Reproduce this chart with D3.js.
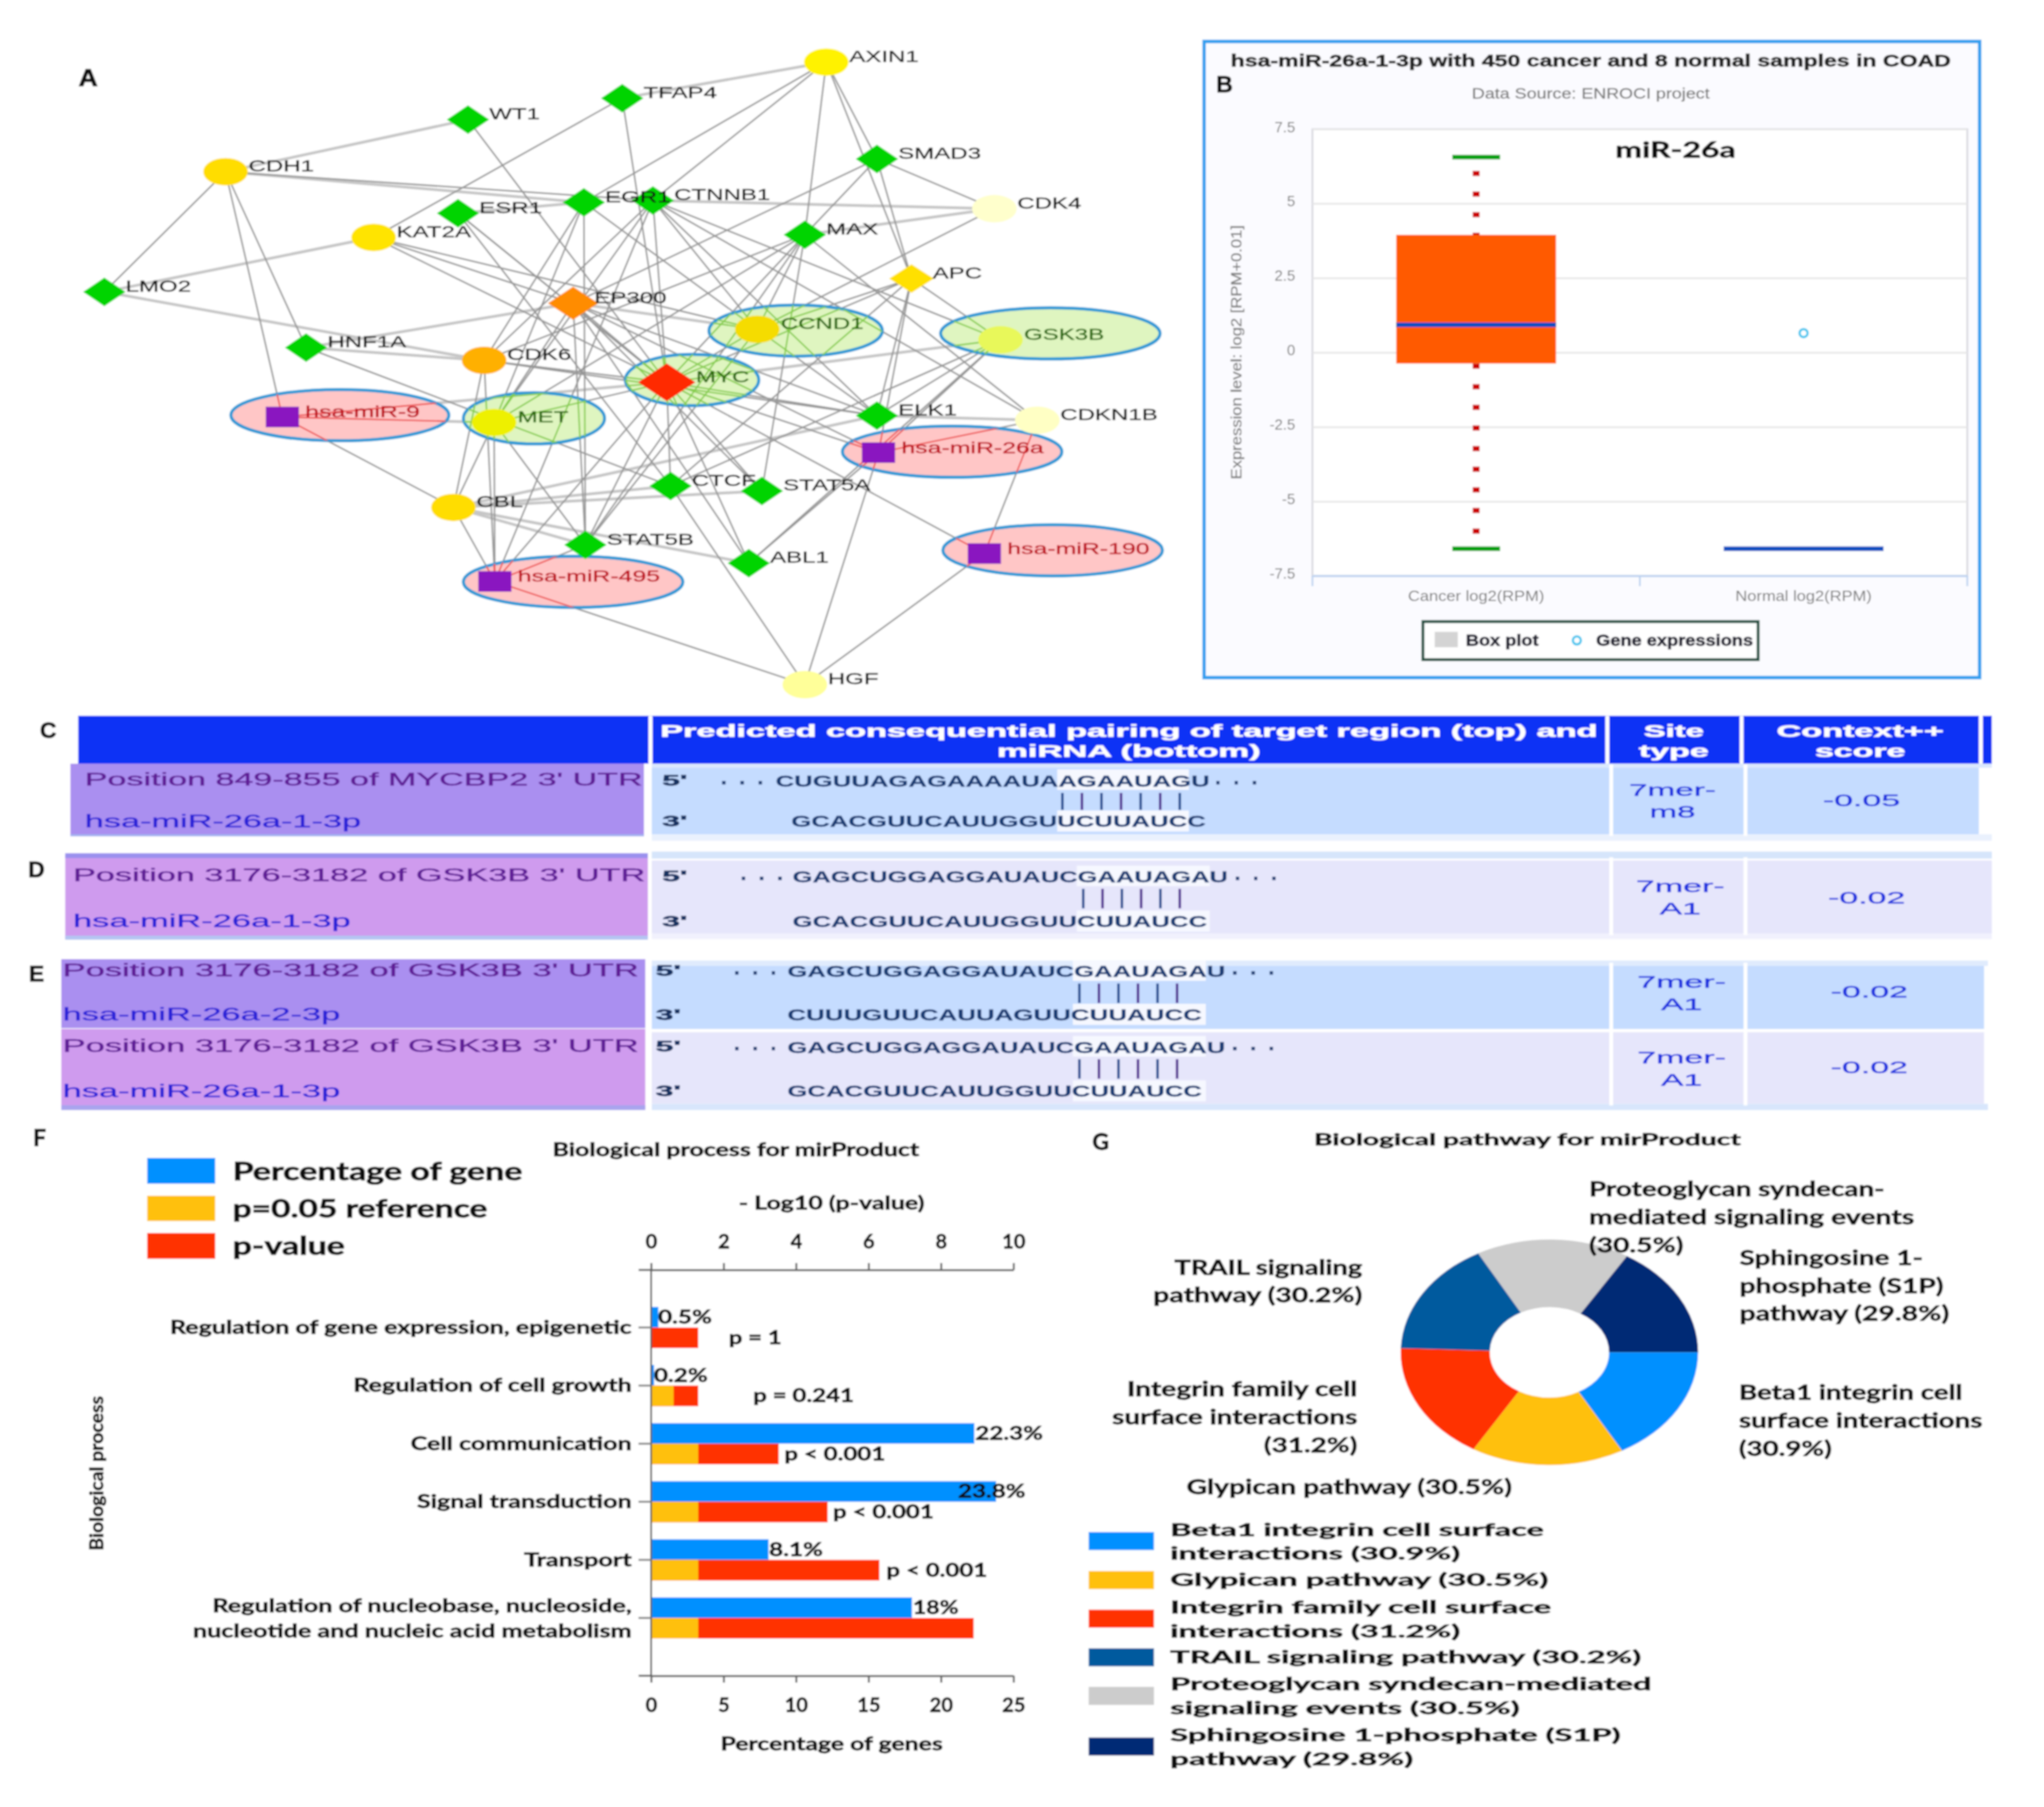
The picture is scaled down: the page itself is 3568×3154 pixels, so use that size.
<!DOCTYPE html>
<html><head><meta charset="utf-8">
<script src="https://cdn.jsdelivr.net/npm/d3@7/dist/d3.min.js"></script>
<style>html,body{margin:0;padding:0;background:#fff}svg{display:block}</style>
</head><body><svg id="fig" width="3568" height="3154" viewBox="0 0 3568 3154"></svg>
<script>
// ---------- DATA ----------
const nodeNames=["AXIN1","TFAP4","WT1","SMAD3","CDH1","CDK4","EGR1","CTNNB1","ESR1","MAX","KAT2A","APC","LMO2","EP300","CCND1","GSK3B","HNF1A","CDK6","MYC","MET","hsa-miR-9","ELK1","CDKN1B","hsa-miR-26a","CTCF","STAT5A","CBL","STAT5B","ABL1","hsa-miR-495","hsa-miR-190","HGF"];
const nodeShapes=["c","d","d","d","c","c","d","d","d","d","c","d","d","d","c","c","d","c","d","c","s","d","c","s","d","d","c","d","d","s","s","c"];
const nodeColors=["#fff200","#00d400","#00d400","#00d400","#ffdd00","#ffffcc","#00d400","#00d400","#00d400","#00d400","#ffe400","#ffe000","#00d400","#ff8c00","#f5dc00","#e8f85a","#00d400","#ffb000","#ff2a00","#eef000","#8a15c0","#00d400","#ffffc4","#8a15c0","#00d400","#00d400","#ffdd00","#00d400","#00d400","#8a15c0","#8a15c0","#ffff99"];
const layoutX=[1077,811,610,1143,294,1296,761,851,597,1049,487,1188,136,747,987,1304,399,631,869,644,368,1143,1352,1145,874,993,591,763,976,645,1283,1049];
const layoutY=[136,215,262,348,376,457,443,439,467,514,520,610,639,664,721,744,761,789,837,925,913,910,920,991,1064,1075,1111,1193,1233,1273,1212,1499];
const haloNames=["hsa-miR-9","MET","MYC","CCND1","GSK3B","hsa-miR-26a","hsa-miR-190","hsa-miR-495"];
const haloX=[443,696,902,1037,1369,1241,1372,747];
const haloY=[909,916,832,724,730,989,1205,1274];
const haloRx=[142,92,87,113,143,143,143,143];
const haloKind=["r","g","g","g","g","r","r","r"];
const thickEdges=[["AXIN1","TFAP4"],["WT1","CDH1"],["CDH1","EGR1"],["LMO2","KAT2A"],["LMO2","CDK6"],["HNF1A","EP300"],["CDK4","CTNNB1"],["CDK4","MAX"],["ESR1","EGR1"],["GSK3B","MYC"],["CTCF","CBL"],["CBL","STAT5A"],["CBL","STAT5B"],["CBL","ABL1"],["ELK1","CDKN1B"],["ELK1","CBL"],["EP300","CCND1"],["MET","hsa-miR-9"],["HNF1A","CDK6"],["hsa-miR-9","MYC"]];
const thinEdges=[["AXIN1","SMAD3"],["AXIN1","APC"],["AXIN1","MAX"],["AXIN1","CTNNB1"],["AXIN1","EGR1"],["TFAP4","KAT2A"],["TFAP4","MYC"],["WT1","MYC"],["SMAD3","CDK4"],["SMAD3","MAX"],["SMAD3","APC"],["SMAD3","EP300"],["CDH1","LMO2"],["CDH1","HNF1A"],["CDH1","hsa-miR-9"],["CDH1","CTNNB1"],["EGR1","CDK6"],["EGR1","MET"],["EGR1","CCND1"],["EGR1","STAT5B"],["CTNNB1","CDK6"],["CTNNB1","MET"],["CTNNB1","hsa-miR-495"],["CTNNB1","ELK1"],["CTNNB1","GSK3B"],["CTNNB1","CDKN1B"],["CTNNB1","CCND1"],["CTNNB1","MYC"],["ESR1","MYC"],["ESR1","MYC"],["ESR1","CTCF"],["KAT2A","EP300"],["KAT2A","MYC"],["KAT2A","CCND1"],["MAX","MYC"],["MAX","MET"],["MAX","CCND1"],["MAX","STAT5A"],["MAX","STAT5B"],["MAX","CDK6"],["APC","CCND1"],["APC","GSK3B"],["APC","ELK1"],["APC","MYC"],["APC","hsa-miR-26a"],["APC","CTCF"],["EP300","MYC"],["EP300","MET"],["EP300","STAT5A"],["EP300","ABL1"],["EP300","hsa-miR-26a"],["EP300","ELK1"],["EP300","STAT5B"],["CCND1","MYC"],["CCND1","ELK1"],["CCND1","STAT5B"],["CCND1","CDK4"],["GSK3B","ELK1"],["GSK3B","CTCF"],["GSK3B","hsa-miR-26a"],["HNF1A","CTCF"],["CDK6","MYC"],["CDK6","ELK1"],["CDK6","hsa-miR-495"],["CDK6","CBL"],["MYC","ELK1"],["MYC","hsa-miR-26a"],["MYC","MET"],["MYC","CTCF"],["MYC","STAT5A"],["MYC","ABL1"],["MYC","hsa-miR-495"],["MYC","STAT5B"],["MYC","hsa-miR-190"],["MET","CBL"],["MET","STAT5B"],["MET","hsa-miR-495"],["hsa-miR-9","CBL"],["hsa-miR-26a","CDKN1B"],["hsa-miR-26a","HGF"],["ABL1","GSK3B"],["hsa-miR-190","CDKN1B"],["hsa-miR-190","HGF"],["hsa-miR-495","HGF"],["hsa-miR-495","CBL"],["hsa-miR-495","STAT5B"],["CTCF","HGF"],["CDKN1B","MAX"],["ABL1","hsa-miR-26a"]];

const boxCategories=["Cancer log2(RPM)","Normal log2(RPM)"];
const boxTicks=[-7.5,-5,-2.5,0,2.5,5,7.5];
const cancerBox={hi:6.56,q3:3.95,median:0.93,q1:-0.37,lo:-6.59};
const normalMedian=-6.59, normalPoint=0.65;

const rowPositions=["Position 849-855 of MYCBP2 3' UTR","Position 3176-3182 of GSK3B 3' UTR","Position 3176-3182 of GSK3B 3' UTR","Position 3176-3182 of GSK3B 3' UTR"];
const rowMirnas=["hsa-miR-26a-1-3p","hsa-miR-26a-1-3p","hsa-miR-26a-2-3p","hsa-miR-26a-1-3p"];
const rowTargets=["CUGUUAGAGAAAAUAAGAAUAGU","GAGCUGGAGGAUAUCGAAUAGAU","GAGCUGGAGGAUAUCGAAUAGAU","GAGCUGGAGGAUAUCGAAUAGAU"];
const rowSeqs=["GCACGUUCAUUGGUUCUUAUCC","GCACGUUCAUUGGUUCUUAUCC","CUUUGUUCAUUAGUUCUUAUCC","GCACGUUCAUUGGUUCUUAUCC"];
const rowSite1=["7mer-","7mer-","7mer-","7mer-"];
const rowSite2=["m8","A1","A1","A1"];
const rowScores=["-0.05","-0.02","-0.02","-0.02"];
const rowPairs=[7,6,6,6];
const headerLines=["Predicted consequential pairing of target region (top) and","miRNA (bottom)"];

const bioCats=["Regulation of gene expression, epigenetic","Regulation of cell growth","Cell communication","Signal transduction","Transport","Regulation of nucleobase, nucleoside,|nucleotide and nucleic acid metabolism"];
const bioPct=[0.5,0.2,22.3,23.8,8.1,18];
const bioPctLabels=["0.5%","0.2%","22.3%","23.8%","8.1%","18%"];
const bioRef=[0,0.62,1.3,1.3,1.3,1.3];
const bioLogP=[1.3,1.3,3.52,4.87,6.3,8.9];
const bioPLabels=["p = 1","p = 0.241","p < 0.001","p < 0.001","p < 0.001",""];
const bioLegend=["Percentage of gene","p=0.05 reference","p-value"];
const pctTicks=[0,5,10,15,20,25], logTicks=[0,2,4,6,8,10];

const pathNames=["Beta1 integrin cell surface interactions (30.9%)","Glypican pathway (30.5%)","Integrin family cell surface interactions (31.2%)","TRAIL signaling pathway (30.2%)","Proteoglycan syndecan-mediated signaling events (30.5%)","Sphingosine 1-phosphate (S1P) pathway (29.8%)"];
const pathValues=[30.9,30.5,31.2,30.2,30.5,29.8];
const pathColors=["#0090ff","#ffc010","#ff3300","#005a9e","#cccccc","#002a75"];
const pathLegendLines=[["Beta1 integrin cell surface","interactions (30.9%)"],["Glypican pathway (30.5%)"],["Integrin family cell surface","interactions (31.2%)"],["TRAIL signaling pathway (30.2%)"],["Proteoglycan syndecan-mediated","signaling events (30.5%)"],["Sphingosine 1-phosphate (S1P)","pathway (29.8%)"]];
const pathLabelLines=[["Beta1 integrin cell","surface interactions","(30.9%)"],["Glypican pathway (30.5%)"],["Integrin family cell","surface interactions","(31.2%)"],["TRAIL signaling","pathway (30.2%)"],["Proteoglycan syndecan-","mediated signaling events","(30.5%)"],["Sphingosine 1-","phosphate (S1P)","pathway (29.8%)"]];

// ---------- HELPERS ----------
const svg=d3.select("#fig");
svg.append("defs").append("filter").attr("id","soft").attr("x","0").attr("y","0").attr("width","1").attr("height","1").attr("filterUnits","objectBoundingBox")
  .append("feGaussianBlur").attr("stdDeviation",1.6);
const root=svg.append("g").attr("filter","url(#soft)");
root.append("rect").attr("width",3568).attr("height",3154).attr("fill","#fff");
function crop(x0,w,y0,h){return {x:d3.scaleLinear([0,1568],[x0,x0+w]),y:d3.scaleLinear([0,1568],[y0,y0+h])};}
const SANS="'Liberation Sans',Arial,sans-serif", LATO="Lato,'Open Sans',sans-serif";
function T(g,str,x,y,o={}){
  const col=o.color||"#000";
  const sw=o.stroke!==undefined?o.stroke:(o.weight==="bold"?0.9:0.5);
  const t=g.append("text").text(str).attr("x",0).attr("y",0)
    .attr("font-family",o.family||SANS).attr("font-size",o.size||28)
    .attr("font-weight",o.weight||"normal").attr("fill",col)
    .attr("stroke",col).attr("stroke-width",sw)
    .attr("dominant-baseline","central");
  const W=o.w||t.node().getComputedTextLength()*(o.sx||1);
  t.attr("textLength",W).attr("lengthAdjust","spacingAndGlyphs");
  const off=o.anchor==="middle"?-W/2:o.anchor==="end"?-W:0;
  if(o.rotate){t.attr("transform",`translate(${x},${y}) rotate(${o.rotate}) translate(${off},0)`);}
  else{t.attr("x",x+off).attr("y",y);}
  return t;
}

// ---------- PANEL A ----------
(function(){
  const P=crop(0,2100,0,1250), g=root.append("g");
  const idx=new Map(nodeNames.map((n,i)=>[n,i]));
  const nx=n=>P.x(layoutX[idx.get(n)]), ny=n=>P.y(layoutY[idx.get(n)]);
  T(g,"A",P.x(115),P.y(170),{size:42,weight:"bold",sx:1.1,anchor:"middle",color:"#111",stroke:1.4});
  const defs=svg.select("defs");
  ["g","r"].forEach(k=>{
    const c=defs.append("clipPath").attr("id","clip"+k);
    haloNames.forEach((h,i)=>{ if(haloKind[i]===k) c.append("ellipse")
      .attr("cx",P.x(haloX[i])).attr("cy",P.y(haloY[i])).attr("rx",P.x(haloRx[i])-P.x(0)).attr("ry",P.y(56)-P.y(0)); });
  });
  function edges(sel,data,col,w){
    sel.selectAll(null).data(data).join("line")
      .attr("x1",d=>nx(d[0])).attr("y1",d=>ny(d[0])).attr("x2",d=>nx(d[1])).attr("y2",d=>ny(d[1]))
      .attr("stroke",col).attr("stroke-width",w);
  }
  const base=g.append("g");
  edges(base,thickEdges,"#c6c6c6",5); edges(base,thinEdges,"#969696",2.8);
  g.append("g").selectAll("ellipse").data(haloNames).join("ellipse")
    .attr("cx",(d,i)=>P.x(haloX[i])).attr("cy",(d,i)=>P.y(haloY[i]))
    .attr("rx",(d,i)=>P.x(haloRx[i])-P.x(0)).attr("ry",P.y(56)-P.y(0))
    .attr("fill",(d,i)=>haloKind[i]==="r"?"#ffc6c6":"#dff5c0").attr("stroke","#2b9ad6").attr("stroke-width",5.5);
  const cg=g.append("g").attr("clip-path","url(#clipg)");
  edges(cg,thickEdges.concat(thinEdges),"#84cc4a",2.6);
  const cr=g.append("g").attr("clip-path","url(#clipr)");
  edges(cr,thickEdges.concat(thinEdges),"#ee5555",2.6);
  const ng=g.append("g");
  nodeNames.forEach((n,i)=>{
    const x=nx(n),y=ny(n),s=nodeShapes[i],col=nodeColors[i];
    if(s==="c") ng.append("ellipse").attr("cx",x).attr("cy",y).attr("rx",39).attr("ry",24).attr("fill",col);
    else if(s==="s") ng.append("rect").attr("x",x-29).attr("y",y-18).attr("width",58).attr("height",36).attr("fill",col);
    else{
      const big=n==="MYC"?[50,33]:n==="EP300"?[44,29]:n==="APC"?[39,25]:[37,25];
      ng.append("path").attr("d",`M${x-big[0]},${y}L${x},${y-big[1]}L${x+big[0]},${y}L${x},${y+big[1]}Z`).attr("fill",col);
    }
    const isHalo=haloNames.includes(n), red=n.startsWith("hsa");
    const lx=x+(red?40:s==="c"?(isHalo?41:40):(n==="MYC"?51:37));
    const lyOff=red?-9:-10;
    T(g,n,lx,y+lyOff,{size:28,sx:red?1.55:1.5,color:red?"#bf0018":isHalo?"#2a6a00":"#111"});
  });
})();

// ---------- PANEL B ----------
(function(){
  const P=crop(2100,1468,50,1170), g=root.append("g");
  g.append("rect").attr("x",P.x(2)).attr("y",P.y(30)).attr("width",P.x(1448)-P.x(2)).attr("height",P.y(1518)-P.y(30))
    .attr("fill","#fbfbff").attr("stroke","#2f9fef").attr("stroke-width",6);
  T(g,"hsa-miR-26a-1-3p with 450 cancer and 8 normal samples in COAD",P.x(723),P.y(75),{size:29,weight:"bold",w:1257,anchor:"middle",color:"#222"});
  T(g,"B",P.x(40),P.y(130),{size:40,weight:"bold",anchor:"middle",color:"#111",stroke:1.2});
  T(g,"Data Source: ENROCI project",P.x(723),P.y(152),{size:25,w:415,anchor:"middle",color:"#777",stroke:0.3});
  const y=d3.scaleLinear([-7.5,7.5],[P.y(1280),P.y(235)]);
  const x=d3.scaleBand(boxCategories,[P.x(204),P.x(1425)]);
  const left=x.range()[0], right=x.range()[1];
  g.append("rect").attr("x",left).attr("y",y(7.5)).attr("width",right-left).attr("height",y(-7.5)-y(7.5)).attr("fill","#fff").attr("stroke","#d6d6de").attr("stroke-width",3);
  const ya=g.append("g").attr("transform",`translate(${left},0)`).call(d3.axisLeft(y).tickValues(boxTicks).tickSize(-(right-left)).tickPadding(30).tickFormat(String));
  ya.select(".domain").remove();
  ya.selectAll("line").attr("stroke","#e6e6e6").attr("stroke-width",3);
  ya.selectAll("text").attr("font-family",SANS).attr("font-size",26).attr("fill","#777").attr("dy","0.18em");
  const xa=g.append("g").attr("transform",`translate(0,${y(-7.5)})`).call(d3.axisBottom(x).tickSize(0).tickPadding(26));
  xa.select(".domain").attr("stroke","#bcd2f0").attr("stroke-width",3.5);
  xa.selectAll("text").attr("font-family",SANS).attr("font-size",25).attr("fill","#777")
    .attr("textLength",238).attr("lengthAdjust","spacingAndGlyphs");
  g.append("g").selectAll("line").data(d3.range(3)).join("line")
    .attr("x1",i=>left+i*x.step()).attr("x2",i=>left+i*x.step()).attr("y1",y(-7.5)).attr("y2",y(-7.5)+18).attr("stroke","#bcd2f0").attr("stroke-width",3);
  const cx=x(boxCategories[0])+x.bandwidth()/2, nxc=x(boxCategories[1])+x.bandwidth()/2, bw=x.bandwidth()*0.488, cap=x.bandwidth()*0.073;
  g.append("line").attr("x1",cx).attr("x2",cx).attr("y1",y(cancerBox.hi)).attr("y2",y(cancerBox.q3)).attr("stroke","#cc0000").attr("stroke-width",12).attr("stroke-dasharray","9 27").attr("stroke-dashoffset",12);
  g.append("line").attr("x1",cx).attr("x2",cx).attr("y1",y(cancerBox.q1)).attr("y2",y(cancerBox.lo)).attr("stroke","#cc0000").attr("stroke-width",12).attr("stroke-dasharray","9 27");
  g.append("rect").attr("x",cx-bw/2).attr("width",bw).attr("y",y(cancerBox.q3)).attr("height",y(cancerBox.q1)-y(cancerBox.q3)).attr("fill","#ff5a00");
  g.append("line").attr("x1",cx-bw/2).attr("x2",cx+bw/2).attr("y1",y(cancerBox.median)).attr("y2",y(cancerBox.median)).attr("stroke","#0a50c0").attr("stroke-width",8);
  [cancerBox.hi,cancerBox.lo].forEach(v=>g.append("line").attr("x1",cx-cap).attr("x2",cx+cap).attr("y1",y(v)).attr("y2",y(v)).attr("stroke","#00a010").attr("stroke-width",8));
  g.append("line").attr("x1",nxc-bw/2).attr("x2",nxc+bw/2).attr("y1",y(normalMedian)).attr("y2",y(normalMedian)).attr("stroke","#0a50c0").attr("stroke-width",8);
  g.append("circle").attr("cx",nxc).attr("cy",y(normalPoint)).attr("r",7).attr("fill","#fff").attr("stroke","#33c4ee").attr("stroke-width",4);
  T(g,"miR-26a",P.x(881),P.y(282),{size:38,weight:"bold",family:LATO,w:210,anchor:"middle",color:"#111"});
  T(g,"Expression level: log2 [RPM+0.01]",P.x(62),P.y(757),{size:25,w:444,anchor:"middle",color:"#777",rotate:-90,stroke:0.3});
  g.append("rect").attr("x",P.x(410)).attr("y",P.y(1387)).attr("width",P.x(1035)-P.x(410)).attr("height",P.y(1476)-P.y(1387)).attr("fill","#fff").attr("stroke","#1d4d3c").attr("stroke-width",5);
  g.append("rect").attr("x",P.x(432)).attr("y",P.y(1411)).attr("width",P.x(475)-P.x(432)).attr("height",P.y(1447)-P.y(1411)).attr("fill","#d4d4d4");
  T(g,"Box plot",P.x(490),P.y(1431),{size:27,weight:"bold",w:127,color:"#223"});
  g.append("circle").attr("cx",P.x(697)).attr("cy",P.y(1431)).attr("r",7).attr("fill","#fff").attr("stroke","#33c4ee").attr("stroke-width",4);
  T(g,"Gene expressions",P.x(733),P.y(1431),{size:27,weight:"bold",w:274,color:"#223"});
})();

// ---------- PANELS C / D / E ----------
(function(){
  const P=crop(0,3568,1240,740), g=root.append("g");
  const R=(a,b,c,d,f)=>g.append("rect").attr("x",P.x(a)).attr("y",P.y(c)).attr("width",P.x(b)-P.x(a)).attr("height",P.y(d)-P.y(c)).attr("fill",f);
  R(60,1518,20,197,"#0a33f5");
  [499,1233,1336].forEach(v=>R(v-1.5,v+1.5,20,197,"#fff"));
  R(1521,1528,20,197,"#0a33f5");
  headerLines.forEach((s,i)=>T(g,s,P.x(866),P.y(75+i*75),{size:30,weight:"bold",w:i?460:1636,anchor:"middle",color:"#fff",stroke:0.6}));
  T(g,"Site",P.x(1284),P.y(75),{size:30,weight:"bold",w:105,anchor:"middle",color:"#fff",stroke:0.6});
  T(g,"type",P.x(1284),P.y(150),{size:30,weight:"bold",w:122,anchor:"middle",color:"#fff",stroke:0.6});
  T(g,"Context++",P.x(1427),P.y(75),{size:30,weight:"bold",w:292,anchor:"middle",color:"#fff",stroke:0.6});
  T(g,"score",P.x(1427),P.y(150),{size:30,weight:"bold",w:158,anchor:"middle",color:"#fff",stroke:0.6});
  // pale bands around the rows
  R(500,1528,197,212,"#dbe8fd"); R(500,1528,458,482,"#eaf1fd"); R(500,1528,522,548,"#d6e5fb"); R(500,1528,825,846,"#f1f1fd");
  R(500,1525,925,945,"#e0ebfd"); R(500,1525,1455,1478,"#d8e6fc");
  const rows=[
   {l:54,lr:494,t:197,b:465,ft:212,fb:458,re:1518,yp:255,ym:410,y5:258,lx:65,lw:428,dx:508,d1:553,c1:595,c2:928,d2:932,sx:607,hl:811,hr:912,ba:815,bb:905,bt:305,bbm:368,y3:410,site:1283,s1:293,s2:373,sc:1428,scy:332,pur:"#aa8ff0",pale:"#c5dcff"},
   {l:50,lr:497,t:535,b:845,ft:555,fb:825,re:1528,yp:610,ym:778,y5:612,lx:56,lw:439,dx:508,d1:568,c1:608,c2:942,d2:947,sx:608,hl:826,hr:928,ba:831,bb:905,bt:660,bbm:732,y3:780,site:1289,s1:650,s2:733,sc:1432,scy:692,pur:"#cf9bee",pale:"#e6e6fb"},
   {l:47,lr:495,t:920,b:1175,ft:945,fb:1178,re:1522,yp:960,ym:1125,y5:962,lx:48,lw:442,dx:503,d1:563,c1:604,c2:940,d2:945,sx:604,hl:823,hr:925,ba:828,bb:903,bt:1010,bbm:1082,y3:1125,site:1290,s1:1003,s2:1085,sc:1434,scy:1040,pur:"#aa8ff0",pale:"#c5dcff"},
   {l:47,lr:495,t:1178,b:1475,ft:1190,fb:1455,re:1522,yp:1240,ym:1408,y5:1242,lx:48,lw:442,dx:503,d1:563,c1:604,c2:940,d2:945,sx:604,hl:823,hr:925,ba:828,bb:903,bt:1290,bbm:1362,y3:1408,site:1290,s1:1283,s2:1365,sc:1434,scy:1320,pur:"#cf9bee",pale:"#e6e6fb"}];
  const dots=(x0,y0)=>d3.range(3).forEach(k=>T(g,".",P.x(x0+k*14),P.y(y0),{size:38,weight:"bold",color:"#153a72",stroke:0.6}));
  rows.forEach((r,i)=>{
    R(500,r.re,r.ft,r.fb,r.pale);
    R(r.l,r.lr,r.t,r.b,r.pur);
    [1236,1339].forEach(v=>R(v-1.5,v+1.5,r.ft-12,r.fb+6,"#fff"));
    const top=i===0?r.yp+3:r.y5+2;
    R(r.hl,r.hr,top-40,top+36,"#f6f8ff"); R(r.hl,r.hr,r.y3-40,r.y3+38,"#f6f8ff");
    T(g,rowPositions[i],P.x(r.lx),P.y(r.yp),{size:31,w:(r.lw)*2.2755,color:"#5f1a96",stroke:0.6});
    T(g,rowMirnas[i],P.x(r.lx),P.y(r.ym),{size:31,w:(i===0?212:213)*2.2755,color:"#2a22d8",stroke:0.5});
    T(g,"5'",P.x(r.dx),P.y(r.y5),{size:26,weight:"bold",w:44,color:"#123060"});
    T(g,"3'",P.x(r.dx),P.y(r.y3),{size:26,weight:"bold",w:44,color:"#123060"});
    dots(r.d1,r.y5-12);
    T(g,rowTargets[i],P.x(r.c1),P.y(r.y5+5),{size:27,weight:"bold",w:(r.c2-r.c1)*2.2755,color:"#153a72",stroke:0.3});
    dots(r.d2,r.y5-12);
    T(g,rowSeqs[i],P.x(r.sx),P.y(r.y3+2),{size:27,weight:"bold",w:318*2.2755,color:"#153a72",stroke:0.3});
    const n=rowPairs[i];
    g.append("g").selectAll("line").data(d3.range(n)).join("line")
      .attr("x1",k=>P.x(r.ba+k*(r.bb-r.ba)/(n-1))).attr("x2",k=>P.x(r.ba+k*(r.bb-r.ba)/(n-1)))
      .attr("y1",P.y(r.bt)).attr("y2",P.y(r.bbm)).attr("stroke",k=>k%2?"#502a90":"#1a4a90").attr("stroke-width",4.5);
    T(g,rowSite1[i],P.x(r.site),P.y(r.s1),{size:30,w:i===0?152:155,anchor:"middle",color:"#1a33e0"});
    T(g,rowSite2[i],P.x(r.site),P.y(r.s2),{size:30,w:i===0?80:72,anchor:"middle",color:"#1a33e0"});
    T(g,rowScores[i],P.x(r.sc),P.y(r.scy),{size:30,w:135,anchor:"middle",color:"#1a33e0"});
  });
  // tinted edges of the left cells
  R(54,494,458,465,"#a0b4f0");
  R(50,497,528,546,"#9a90ee"); R(50,497,833,848,"#b4c4f2");
  R(47,495,1460,1478,"#a9a4ee");
  T(g,"C",P.x(37),P.y(75),{size:38,weight:"bold",sx:1.05,anchor:"middle",color:"#111",stroke:1.2});
  T(g,"D",P.x(28),P.y(590),{size:38,weight:"bold",sx:1.05,anchor:"middle",color:"#111",stroke:1.2});
  T(g,"E",P.x(28),P.y(975),{size:38,weight:"bold",sx:1.05,anchor:"middle",color:"#111",stroke:1.2});
})();

// ---------- PANEL F ----------
(function(){
  const P=crop(0,1900,1980,1174), g=root.append("g");
  const fs=33, BOLD={family:LATO,weight:"bold",color:"#111",stroke:1};
  const xPct=d3.scaleLinear([0,25],[P.x(938),P.x(1460)]);
  const xLog=d3.scaleLinear([0,10],[P.x(938),P.x(1460)]);
  const y=d3.scaleBand(bioCats,[P.y(382.5),P.y(1195)]);
  const h=P.y(48)-P.y(0);
  T(g,"F",P.x(57),P.y(7),{...BOLD,size:40,anchor:"middle",stroke:1.3});
  T(g,"Biological process for mirProduct",P.x(1060),P.y(34),{...BOLD,size:fs-1,w:640,anchor:"middle"});
  T(g,"- Log10 (p-value)",P.x(1198),P.y(158),{...BOLD,size:fs,w:324,anchor:"middle"});
  [["#0090ff",55,115,84],["#ffc010",143,202,171],["#ff3300",230,290,258]].forEach((r,i)=>{
    g.append("rect").attr("x",P.x(212)).attr("y",P.y(r[1])).attr("width",P.x(310)-P.x(212)).attr("height",P.y(r[2])-P.y(r[1])).attr("fill",r[0]);
    T(g,bioLegend[i],P.x(335),P.y(r[3]),{...BOLD,size:44,w:i===0?506:i===1?445:196,stroke:1.2});
  });
  const c=d=>y(d)+y.bandwidth()/2;
  g.append("g").selectAll("rect").data(bioCats).join("rect").attr("x",xPct(0)).attr("y",d=>c(d)-h).attr("height",h).attr("width",(d,i)=>xPct(bioPct[i])-xPct(0)).attr("fill","#0090ff");
  g.append("g").selectAll("rect").data(bioCats).join("rect").attr("x",xLog(0)).attr("y",d=>c(d)).attr("height",h).attr("width",(d,i)=>xLog(bioLogP[i])-xLog(0)).attr("fill","#ff3300");
  g.append("g").selectAll("rect").data(bioCats).join("rect").attr("x",xLog(0)).attr("y",d=>c(d)).attr("height",h).attr("width",(d,i)=>xLog(bioRef[i])-xLog(0)).attr("fill","#ffc010");
  const styleAxis=a=>{a.selectAll("path,line").attr("stroke","#666").attr("stroke-width",3.5);
    a.selectAll("text").attr("font-family",LATO).attr("font-weight","bold").attr("font-size",fs+2).attr("fill","#111").attr("stroke","#111").attr("stroke-width",0.9);};
  const at=g.append("g").attr("transform",`translate(0,${P.y(316)})`).call(d3.axisTop(xLog).tickValues(logTicks).tickSize(12).tickSizeOuter(0).tickPadding(26).tickFormat(String));styleAxis(at);
  const ab=g.append("g").attr("transform",`translate(0,${P.y(1262)})`).call(d3.axisBottom(xPct).tickValues(pctTicks).tickSize(12).tickSizeOuter(0).tickPadding(26).tickFormat(String));styleAxis(ab);
  [316,1262].forEach(v=>g.append("line").attr("x1",P.x(920)).attr("x2",P.x(938)).attr("y1",P.y(v)).attr("y2",P.y(v)).attr("stroke","#666").attr("stroke-width",3.5));
  g.append("line").attr("x1",P.x(938)).attr("x2",P.x(938)).attr("y1",P.y(316)).attr("y2",P.y(1262)).attr("stroke","#555").attr("stroke-width",3);
  const al=g.append("g").attr("transform",`translate(${P.x(938)},0)`).call(d3.axisLeft(y).tickSize(22).tickSizeOuter(0).tickFormat(""));
  al.select(".domain").remove();al.selectAll("line").attr("stroke","#888").attr("stroke-width",3.5);
  const catW=[806,486,386,375,188];
  bioCats.forEach((d,i)=>{
    const parts=d.split("|");
    if(parts.length===1) T(g,parts[0],P.x(910),c(d)-2,{...BOLD,size:fs,w:catW[i],anchor:"end"});
    else{
      T(g,parts[0],P.x(910),P.y(1097),{...BOLD,size:fs,w:732,anchor:"end"});
      T(g,parts[1],P.x(910),P.y(1155),{...BOLD,size:fs,w:766,anchor:"end"});
    }
  });
  const pctPos=[948,942,1405,1380,1108,1315], pctW=[94,94,118,118,94,80];
  bioPctLabels.forEach((s,i)=>T(g,s,P.x(pctPos[i]),c(bioCats[i])-h/2-2,{...BOLD,size:fs,w:pctW[i]}));
  const pPos=[1050,1085,1130,1200,1277], pW=[92,176,176,176,176];
  bioPLabels.forEach((s,i)=>{if(s)T(g,s,P.x(pPos[i]),c(bioCats[i])+h/2-2,{...BOLD,size:fs,w:pW[i]});});
  T(g,"Percentage of genes",P.x(1198),P.y(1418),{...BOLD,size:fs,w:388,anchor:"middle"});
  T(g,"Biological process",P.x(138),P.y(790),{...BOLD,size:fs,w:270,anchor:"middle",rotate:-90});
})();

// ---------- PANEL G ----------
(function(){
  const P=crop(1850,1718,1980,1174), g=root.append("g");
  const BOLD={family:LATO,weight:"bold",color:"#111",stroke:1};
  T(g,"G",P.x(65),P.y(16),{...BOLD,size:40,anchor:"middle",stroke:1.3});
  T(g,"Biological pathway for mirProduct",P.x(745),P.y(10),{...BOLD,size:29,w:745,anchor:"middle"});
  const pie=d3.pie().sort(null).startAngle(Math.PI/2).endAngle(Math.PI*2.5)(pathValues);
  const arc=d3.arc().innerRadius(95).outerRadius(237);
  const sy=(P.y(263)-P.y(0))/237, sx=(P.x(237)-P.x(0))/237;
  g.append("g").attr("transform",`translate(${P.x(780)},${P.y(508)}) scale(${sx},${sy})`)
    .selectAll("path").data(pie).join("path").attr("d",arc).attr("fill",(d,i)=>pathColors[i]);
  const lblPos=[[1082,600,"start",[390,425,162]],[202,820,"start",[568]],[474,592,"end",[402,428,163]],[482,308,"end",[328,365]],[843,126,"start",[516,568,165]],[1083,286,"start",[320,356,366]]];
  pathLabelLines.forEach((ls,i)=>{
    const p=lblPos[i];
    ls.forEach((s,j)=>T(g,s,P.x(p[0]),P.y(p[1]+j*65),{...BOLD,size:36,w:p[3][j],anchor:p[2]}));
  });
  const swatch=[927,1018,1108,1198,1288,1406];
  const lineY=[[920,975],[1037],[1100,1156],[1217],[1280,1336],[1398,1454]];
  const lineW=[[652,506],[660],[665,506],[822],[840,610],[786,424]];
  pathNames.forEach((n,i)=>{
    g.append("rect").attr("x",P.x(46)).attr("y",P.y(swatch[i])).attr("width",P.x(150)-P.x(46)).attr("height",P.y(swatch[i]+42)-P.y(swatch[i])).attr("fill",pathColors[i]);
    pathLegendLines[i].forEach((s,j)=>T(g,s,P.x(176),P.y(lineY[i][j]),{...BOLD,size:30,w:lineW[i][j]}));
  });
})();
</script></body></html>
